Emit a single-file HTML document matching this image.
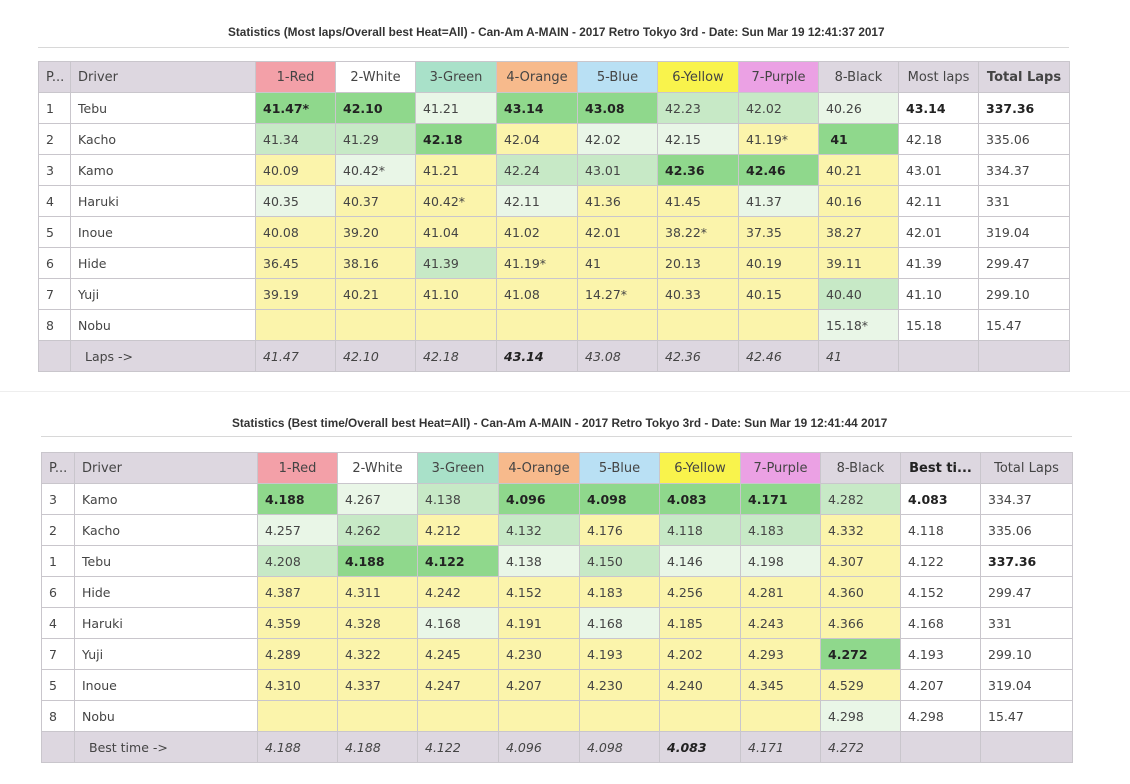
<!DOCTYPE html>
<html><head><meta charset="utf-8"><style>
body{margin:0;width:1130px;height:784px;background:#fff;position:relative;overflow:hidden;font-family:"DejaVu Sans","Liberation Sans",sans-serif;}
.t{position:absolute;font-family:"Liberation Sans",sans-serif;font-weight:bold;font-size:11.8px;color:#333;white-space:nowrap;}
.hr{position:absolute;height:1px;background:#d8d8d8;}
table{position:absolute;border-collapse:collapse;table-layout:fixed;font-size:12.5px;color:#444;}
td{border:1px solid #c9c6cc;height:30px;padding:0 0 0 7px;white-space:nowrap;overflow:hidden;}
tr.h td{background:#ddd7e0;color:#444;font-size:13px}
tr.h td.c{text-align:center;padding:0}
tr.f td{background:#ddd7e0;font-style:italic;}
.G{background:#8fd88c;font-weight:bold;color:#222}
.L{background:#c7e9c6}
.V{background:#e9f6e7}
.Y{background:#fbf4ab}
.W{background:#fff}
.b{font-weight:bold;color:#222}
</style></head><body>
<div class="t" style="left:228px;top:25px">Statistics (Most laps/Overall best Heat=All) - Can-Am A-MAIN - 2017 Retro Tokyo 3rd - Date: Sun Mar 19 12:41:37 2017</div>
<div class="hr" style="left:38px;top:47px;width:1031px"></div>
<table style="left:38px;top:61px;width:1031px">
<colgroup><col style="width:32px"><col style="width:185px"><col style="width:80px"><col style="width:80px"><col style="width:81px"><col style="width:81px"><col style="width:80px"><col style="width:81px"><col style="width:80px"><col style="width:80px"><col style="width:80px"><col style="width:91px"></colgroup>
<tr class="h"><td>P...</td><td>Driver</td><td class="c" style="background:#f3a0a8">1-Red</td><td class="c" style="background:#fff">2-White</td><td class="c" style="background:#a9e1c9">3-Green</td><td class="c" style="background:#f7ba8c">4-Orange</td><td class="c" style="background:#b9e0f4">5-Blue</td><td class="c" style="background:#f9f34c">6-Yellow</td><td class="c" style="background:#eba1e4">7-Purple</td><td class="c">8-Black</td><td class="c">Most laps</td><td class="c b" style="font-weight:bold">Total Laps</td></tr>
<tr><td>1</td><td>Tebu</td><td class="G">41.47*</td><td class="G">42.10</td><td class="V">41.21</td><td class="G">43.14</td><td class="G">43.08</td><td class="L">42.23</td><td class="L">42.02</td><td class="V">40.26</td><td class="b">43.14</td><td class="b">337.36</td></tr>
<tr><td>2</td><td>Kacho</td><td class="L">41.34</td><td class="L">41.29</td><td class="G">42.18</td><td class="Y">42.04</td><td class="V">42.02</td><td class="V">42.15</td><td class="Y">41.19*</td><td class="G">&nbsp;41</td><td>42.18</td><td>335.06</td></tr>
<tr><td>3</td><td>Kamo</td><td class="Y">40.09</td><td class="V">40.42*</td><td class="Y">41.21</td><td class="L">42.24</td><td class="L">43.01</td><td class="G">42.36</td><td class="G">42.46</td><td class="Y">40.21</td><td>43.01</td><td>334.37</td></tr>
<tr><td>4</td><td>Haruki</td><td class="V">40.35</td><td class="Y">40.37</td><td class="Y">40.42*</td><td class="V">42.11</td><td class="Y">41.36</td><td class="Y">41.45</td><td class="V">41.37</td><td class="Y">40.16</td><td>42.11</td><td>331</td></tr>
<tr><td>5</td><td>Inoue</td><td class="Y">40.08</td><td class="Y">39.20</td><td class="Y">41.04</td><td class="Y">41.02</td><td class="Y">42.01</td><td class="Y">38.22*</td><td class="Y">37.35</td><td class="Y">38.27</td><td>42.01</td><td>319.04</td></tr>
<tr><td>6</td><td>Hide</td><td class="Y">36.45</td><td class="Y">38.16</td><td class="L">41.39</td><td class="Y">41.19*</td><td class="Y">41</td><td class="Y">20.13</td><td class="Y">40.19</td><td class="Y">39.11</td><td>41.39</td><td>299.47</td></tr>
<tr><td>7</td><td>Yuji</td><td class="Y">39.19</td><td class="Y">40.21</td><td class="Y">41.10</td><td class="Y">41.08</td><td class="Y">14.27*</td><td class="Y">40.33</td><td class="Y">40.15</td><td class="L">40.40</td><td>41.10</td><td>299.10</td></tr>
<tr><td>8</td><td>Nobu</td><td class="Y"></td><td class="Y"></td><td class="Y"></td><td class="Y"></td><td class="Y"></td><td class="Y"></td><td class="Y"></td><td class="V">15.18*</td><td>15.18</td><td>15.47</td></tr>
<tr class="f"><td></td><td style="font-style:normal;padding-left:14px">Laps -&gt;</td><td>41.47</td><td>42.10</td><td>42.18</td><td class="b">43.14</td><td>43.08</td><td>42.36</td><td>42.46</td><td>41</td><td></td><td></td></tr>
</table>
<div class="hr" style="left:0;top:391px;width:1130px;background:#eee"></div>
<div class="t" style="left:232px;top:416px">Statistics (Best time/Overall best Heat=All) - Can-Am A-MAIN - 2017 Retro Tokyo 3rd - Date: Sun Mar 19 12:41:44 2017</div>
<div class="hr" style="left:41px;top:436px;width:1031px"></div>
<table style="left:41px;top:452px;width:1031px">
<colgroup><col style="width:33px"><col style="width:183px"><col style="width:80px"><col style="width:80px"><col style="width:81px"><col style="width:81px"><col style="width:80px"><col style="width:81px"><col style="width:80px"><col style="width:80px"><col style="width:80px"><col style="width:92px"></colgroup>
<tr class="h"><td>P...</td><td>Driver</td><td class="c" style="background:#f3a0a8">1-Red</td><td class="c" style="background:#fff">2-White</td><td class="c" style="background:#a9e1c9">3-Green</td><td class="c" style="background:#f7ba8c">4-Orange</td><td class="c" style="background:#b9e0f4">5-Blue</td><td class="c" style="background:#f9f34c">6-Yellow</td><td class="c" style="background:#eba1e4">7-Purple</td><td class="c">8-Black</td><td class="c" style="font-weight:bold;color:#222">Best ti...</td><td class="c">Total Laps</td></tr>
<tr><td>3</td><td>Kamo</td><td class="G">4.188</td><td class="V">4.267</td><td class="L">4.138</td><td class="G">4.096</td><td class="G">4.098</td><td class="G">4.083</td><td class="G">4.171</td><td class="L">4.282</td><td class="b">4.083</td><td>334.37</td></tr>
<tr><td>2</td><td>Kacho</td><td class="V">4.257</td><td class="L">4.262</td><td class="Y">4.212</td><td class="L">4.132</td><td class="Y">4.176</td><td class="L">4.118</td><td class="L">4.183</td><td class="Y">4.332</td><td>4.118</td><td>335.06</td></tr>
<tr><td>1</td><td>Tebu</td><td class="L">4.208</td><td class="G">4.188</td><td class="G">4.122</td><td class="V">4.138</td><td class="L">4.150</td><td class="V">4.146</td><td class="V">4.198</td><td class="Y">4.307</td><td>4.122</td><td class="b">337.36</td></tr>
<tr><td>6</td><td>Hide</td><td class="Y">4.387</td><td class="Y">4.311</td><td class="Y">4.242</td><td class="Y">4.152</td><td class="Y">4.183</td><td class="Y">4.256</td><td class="Y">4.281</td><td class="Y">4.360</td><td>4.152</td><td>299.47</td></tr>
<tr><td>4</td><td>Haruki</td><td class="Y">4.359</td><td class="Y">4.328</td><td class="V">4.168</td><td class="Y">4.191</td><td class="V">4.168</td><td class="Y">4.185</td><td class="Y">4.243</td><td class="Y">4.366</td><td>4.168</td><td>331</td></tr>
<tr><td>7</td><td>Yuji</td><td class="Y">4.289</td><td class="Y">4.322</td><td class="Y">4.245</td><td class="Y">4.230</td><td class="Y">4.193</td><td class="Y">4.202</td><td class="Y">4.293</td><td class="G">4.272</td><td>4.193</td><td>299.10</td></tr>
<tr><td>5</td><td>Inoue</td><td class="Y">4.310</td><td class="Y">4.337</td><td class="Y">4.247</td><td class="Y">4.207</td><td class="Y">4.230</td><td class="Y">4.240</td><td class="Y">4.345</td><td class="Y">4.529</td><td>4.207</td><td>319.04</td></tr>
<tr><td>8</td><td>Nobu</td><td class="Y"></td><td class="Y"></td><td class="Y"></td><td class="Y"></td><td class="Y"></td><td class="Y"></td><td class="Y"></td><td class="V">4.298</td><td>4.298</td><td>15.47</td></tr>
<tr class="f"><td></td><td style="font-style:normal;padding-left:14px">Best time -&gt;</td><td>4.188</td><td>4.188</td><td>4.122</td><td>4.096</td><td>4.098</td><td class="b">4.083</td><td>4.171</td><td>4.272</td><td></td><td></td></tr>
</table>
</body></html>
